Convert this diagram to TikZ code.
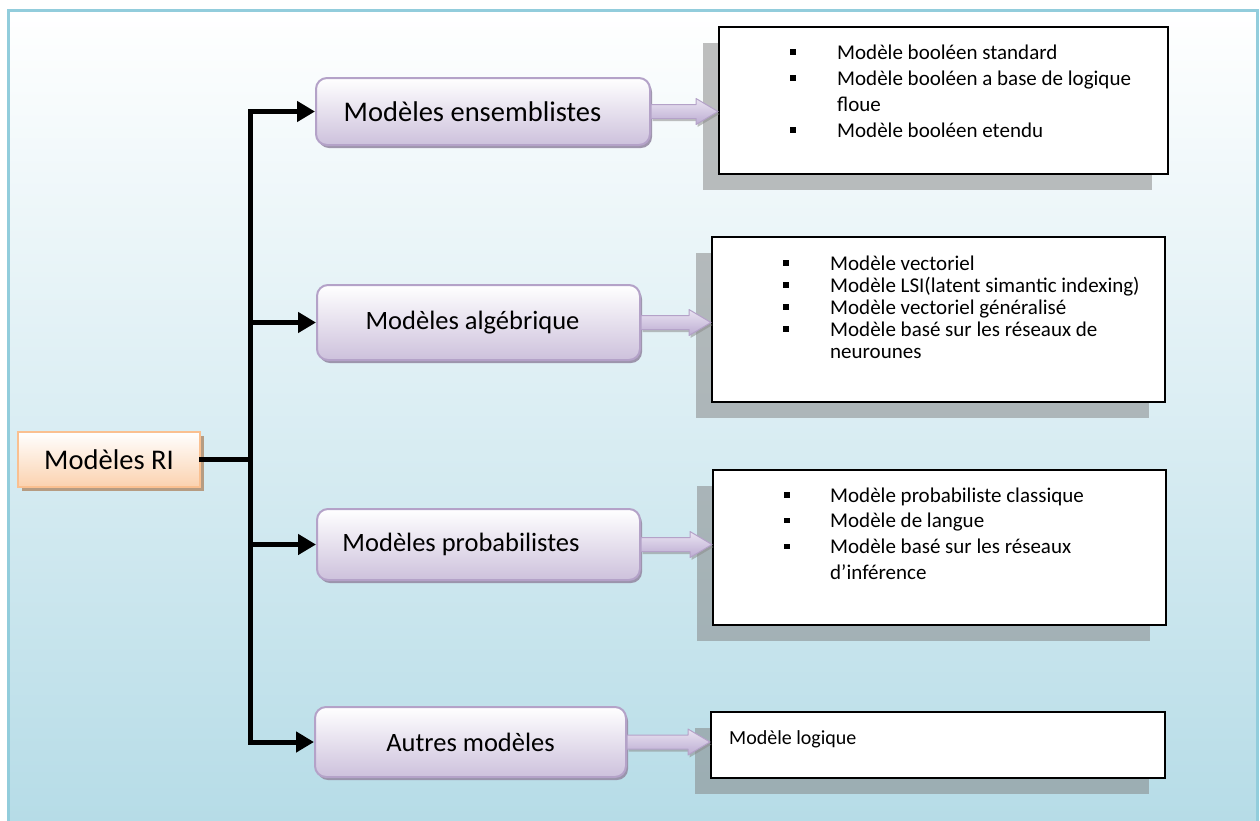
\documentclass[tikz,border=0pt]{standalone}
\usepackage{fontspec}
\setmainfont{Carlito}
\usetikzlibrary{arrows.meta,calc,shadows}

\definecolor{framecol}{RGB}{146,205,220}
\definecolor{bgbot}{RGB}{182,220,231}
\definecolor{lilacbot}{RGB}{205,193,220}
\definecolor{lilacline}{RGB}{180,162,200}
\definecolor{lilacshadow}{RGB}{150,140,165}
\definecolor{peachbot}{RGB}{251,210,175}
\definecolor{peachline}{RGB}{250,192,144}
\definecolor{peachshadow}{RGB}{182,156,130}
\definecolor{arrowtop}{RGB}{234,228,242}
\definecolor{arrowbot}{RGB}{188,172,210}

\newcommand\sqbullet{\rule[4.5pt]{5.5pt}{5.5pt}}

\tikzset{
  catbox/.style={rectangle, rounded corners=11pt, draw=lilacline, line width=2pt,
    top color=white, bottom color=lilacbot, inner sep=0pt,
    font=\fontsize{26.5}{32}\selectfont,
    drop shadow={shadow xshift=2pt, shadow yshift=-3pt, fill=lilacshadow, opacity=0.9}},
  rootbox/.style={rectangle, draw=peachline, line width=2pt,
    top color=white, bottom color=peachbot, inner sep=0pt,
    minimum width=182pt, minimum height=55pt,
    font=\fontsize{28.5}{34}\selectfont,
    drop shadow={shadow xshift=4pt, shadow yshift=-4pt, fill=peachshadow, opacity=1}},
  listbox/.style={rectangle, draw=black, line width=2pt, fill=white, inner sep=0pt,
    drop shadow={shadow xshift=-16pt, shadow yshift=-16pt, fill=gray, opacity=0.5}},
  itemtext/.style={anchor=north west, inner sep=0pt, align=left},
  trunk/.style={line width=5pt, line cap=rect},
  feed/.style={line width=5pt, -{Triangle[length=18pt,width=20pt]}},
  blockarrow/.style={draw=lilacline, line width=1pt, line join=round,
    top color=arrowtop, bottom color=arrowbot,
    drop shadow={shadow xshift=1.5pt, shadow yshift=-2.5pt, fill=black!45, opacity=0.55}},
}

\begin{document}
\begin{tikzpicture}[x=1pt, y=-1pt]
  \useasboundingbox (0,0) rectangle (1260,820);
  \fill[white] (0,0) rectangle (1260,820);
  % panel with a vertical gradient and a thin teal frame
  \shade[top color=white, bottom color=bgbot] (8,10) rectangle (1257,822);
  \draw[framecol, line width=3pt] (8,822) -- (8,10) -- (1257,10) -- (1257,822);

  % category boxes (trailing space moves a label to the left of centre)
  \node[catbox, minimum width=334pt, minimum height=67pt,
        font=\fontsize{28.5}{34}\selectfont] (ens) at (483,111.5) {Modèles ensemblistes\hspace*{21pt}};
  \node[catbox, minimum width=323pt, minimum height=75pt] (alg) at (478.5,322.5) {Modèles algébrique\hspace*{12pt}};
  \node[catbox, minimum width=323pt, minimum height=71pt] (prob) at (478.5,544.5) {Modèles probabilistes\hspace*{35pt}};
  \node[catbox, minimum width=311pt, minimum height=70pt] (aut) at (470.5,742) {Autres modèles};

  % root box and the tree connector
  \node[rootbox] (ri) at (109,459.5) {Modèles RI};
  \coordinate (j) at (250,459.5);
  \draw[trunk] (ri.east) -- (j);
  \draw[trunk] (j |- ens.west) -- (j |- aut.west);
  \draw[feed] (j |- ens.west) -- (ens.west);
  \draw[feed] (j |- alg.west) -- (alg.west);
  \draw[feed] (j |- prob.west) -- (prob.west);
  \draw[feed] (j |- aut.west) -- (aut.west);

  % detail boxes
  \node[listbox, minimum width=449pt, minimum height=147pt] (l1) at (943.5,100.5) {};
  \node[listbox, minimum width=453pt, minimum height=165pt] (l2) at (938.5,319.5) {};
  \node[listbox, minimum width=453pt, minimum height=155pt] (l3) at (939.5,547.5) {};
  \node[listbox, minimum width=454pt, minimum height=66pt] (l4) at (938,745) {};

  \node[itemtext] (t1) at (790,40.8) {\fontsize{21}{26}\selectfont
    \begin{tabular}{@{}p{47pt}@{}l@{}}
      \sqbullet & Modèle booléen standard\\
      \sqbullet & Modèle booléen a base de logique\\
                & floue\\
      \sqbullet & Modèle booléen etendu
    \end{tabular}};
  \node[itemtext] (t2) at (783,254.6) {\fontsize{21}{22}\selectfont
    \begin{tabular}{@{}p{47pt}@{}l@{}}
      \sqbullet & Modèle vectoriel\\
      \sqbullet & Modèle LSI(latent simantic indexing)\\
      \sqbullet & Modèle vectoriel généralisé\\
      \sqbullet & Modèle basé sur les réseaux de\\
                & neurounes
    \end{tabular}};
  \node[itemtext] (t3) at (784,484) {\fontsize{21}{25.7}\selectfont
    \begin{tabular}{@{}p{46pt}@{}l@{}}
      \sqbullet & Modèle probabiliste classique\\
      \sqbullet & Modèle de langue\\
      \sqbullet & Modèle basé sur les réseaux\\
                & d’inférence
    \end{tabular}};
  \node[anchor=base west, inner sep=0pt, font=\fontsize{20}{24}\selectfont] (t4) at (729,744) {Modèle logique};

  % block arrows from each category to its detail box
  \foreach \src/\dst in {ens/l1, alg/l2, prob/l3, aut/l4}{
    \coordinate (tip) at (\dst.west |- \src.east);
    \path[blockarrow] ($(\src.east)+(0,-7)$) -- ($(tip)+(-22,-7)$) -- ($(tip)+(-22,-13)$)
      -- (tip) -- ($(tip)+(-22,13)$) -- ($(tip)+(-22,7)$) -- ($(\src.east)+(0,7)$) -- cycle;
  }
\end{tikzpicture}
\end{document}
